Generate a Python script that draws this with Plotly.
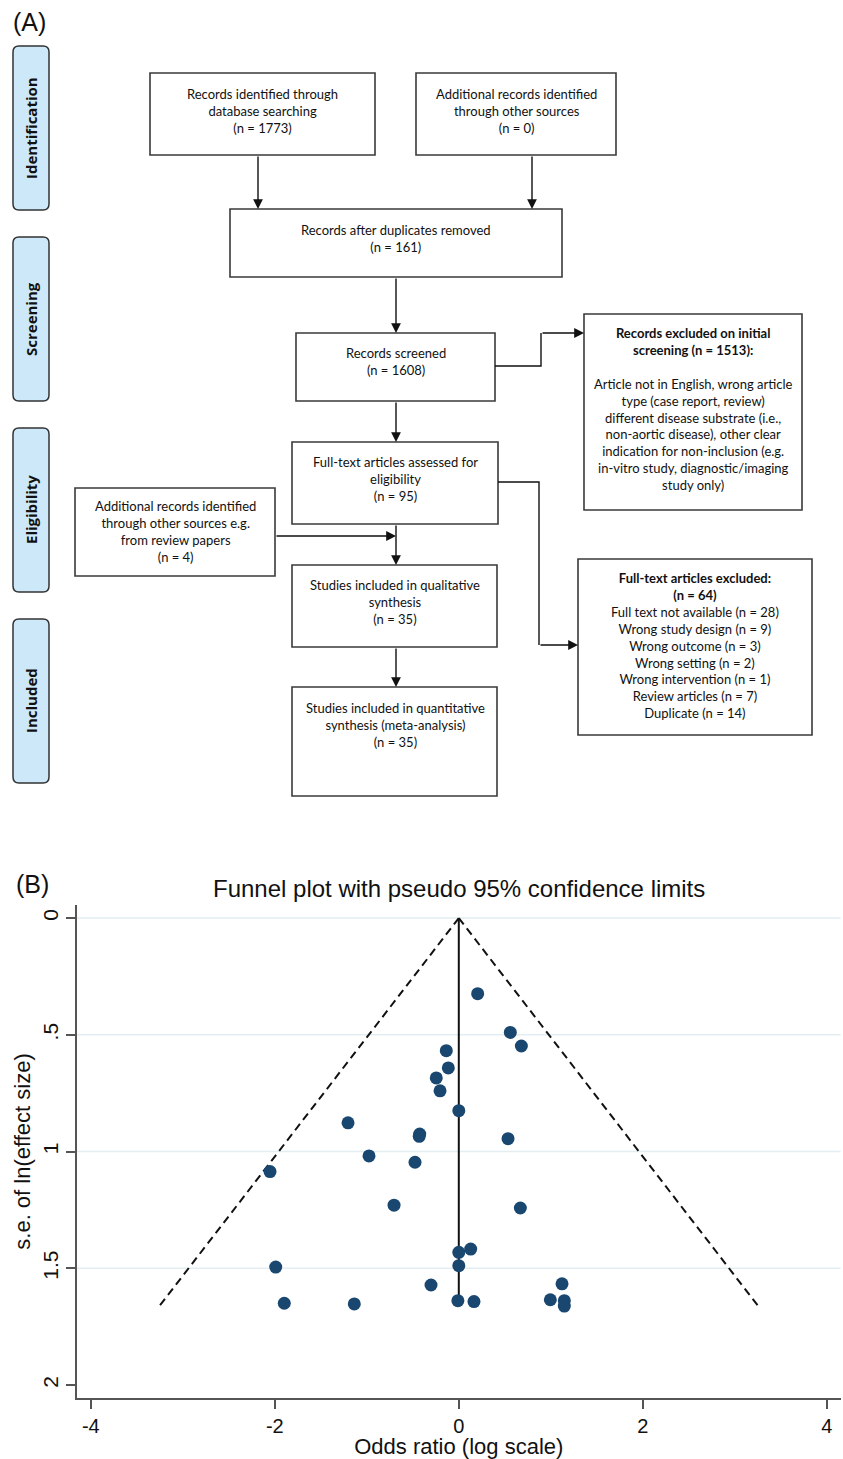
import plotly.graph_objects as go

W, H = 843, 1459

# ---------------- DATA ----------------
# Panel A: PRISMA flow counts
stage_labels = ["Identification", "Screening", "Eligibility", "Included"]
n_database = 1773
n_other = 0
n_dedup = 161
n_screened = 1608
n_excluded_screen = 1513
n_fulltext = 95
n_review_papers = 4
n_qualitative = 35
n_quantitative = 35
n_fulltext_excluded = 64
excl_reasons = ["Full text not available", "Wrong study design", "Wrong outcome",
                "Wrong setting", "Wrong intervention", "Review articles", "Duplicate"]
excl_counts = [28, 9, 3, 2, 1, 7, 14]

# Panel B: funnel plot (log odds ratio vs standard error)
log_or = [0.205, 0.56, 0.68, -0.136, -0.114, -0.245, -0.204, 0.0, -1.204, -0.425,
          -0.43, 0.535, -0.976, -0.476, -2.052, -0.704, 0.669, 0.0, 0.129, -1.99,
          0.0, -0.302, 1.122, -0.01, 0.165, 0.995, 1.147, 1.147, -1.897, -1.136]
se_log_or = [0.324, 0.49, 0.548, 0.568, 0.642, 0.685, 0.74, 0.825, 0.877, 0.925,
             0.935, 0.945, 1.019, 1.046, 1.086, 1.23, 1.242, 1.432, 1.418, 1.495,
             1.489, 1.572, 1.567, 1.639, 1.643, 1.635, 1.639, 1.662, 1.65, 1.653]
pooled_se = [0.0, 1.66]
pooled_x = [0.0, 0.0]
lower_limit_x = [0.0, -3.25]
upper_limit_x = [0.0, 3.25]
x_ticks = [-4, -2, 0, 2, 4]
x_ticklabels = ["-4", "-2", "0", "2", "4"]
y_ticks = [0, 0.5, 1, 1.5, 2]
y_ticklabels = ["0", ".5", "1", "1.5", "2"]
grid_values = [0, 0.5, 1, 1.5]


def X(px):
    return px / W


def Y(py):
    return 1 - py / H


fig = go.Figure()

# ---------------- Panel B: funnel plot ----------------
for yv in grid_values:
    fig.add_shape(type="line", xref="x domain", yref="y", x0=0, x1=1, y0=yv, y1=yv,
                  line=dict(color="#e3edf2", width=1.6), layer="below")

fig.add_trace(go.Scatter(x=lower_limit_x, y=pooled_se, mode="lines",
                         line=dict(color="#111111", width=2, dash="8px,5px"),
                         showlegend=False, hoverinfo="skip"))
fig.add_trace(go.Scatter(x=upper_limit_x, y=pooled_se, mode="lines",
                         line=dict(color="#111111", width=2, dash="8px,5px"),
                         showlegend=False, hoverinfo="skip"))
fig.add_trace(go.Scatter(x=pooled_x, y=pooled_se, mode="lines",
                         line=dict(color="#111111", width=2),
                         showlegend=False, hoverinfo="skip"))
fig.add_trace(go.Scatter(x=log_or, y=se_log_or, mode="markers",
                         marker=dict(color="#1a476f", size=13, line=dict(width=0)),
                         showlegend=False))

tick_font = dict(family="Liberation Sans, Arial, sans-serif", size=20, color="#111111")
title_font = dict(family="Liberation Sans, Arial, sans-serif", size=22, color="#111111")
fig.update_layout(
    width=W, height=H, autosize=False,
    margin=dict(l=0, r=0, t=0, b=0),
    paper_bgcolor="white", plot_bgcolor="white",
    xaxis=dict(domain=[X(77), X(840.6)], range=[-4.15, 4.15],
               tickmode="array", tickvals=x_ticks, ticktext=x_ticklabels,
               ticks="outside", ticklen=9, tickwidth=1.5, tickcolor="#555555",
               showline=True, linecolor="#555555", linewidth=1.5,
               showgrid=False, zeroline=False, tickfont=tick_font,
               title=dict(text="Odds ratio (log scale)", font=title_font, standoff=0)),
    yaxis=dict(domain=[Y(1398), Y(905)], range=[2.056, -0.056],
               tickmode="array", tickvals=y_ticks, ticktext=y_ticklabels,
               tickangle=-90,
               ticks="outside", ticklen=9, tickwidth=1.5, tickcolor="#555555",
               showline=True, linecolor="#555555", linewidth=1.5,
               showgrid=False, zeroline=False, tickfont=dict(tick_font, size=21),
               title=dict(text="s.e. of ln(effect size)", font=title_font, standoff=2)),
)

annotations = []
annotations.append(dict(text="Funnel plot with pseudo 95% confidence limits",
                        xref="paper", yref="paper", x=X(459), y=Y(888),
                        xanchor="center", yanchor="middle", showarrow=False,
                        font=dict(family="Liberation Sans, Arial, sans-serif", size=24,
                                  color="#111111")))
annotations.append(dict(text="(B)", xref="paper", yref="paper", x=X(32), y=Y(884),
                        xanchor="center", yanchor="middle", showarrow=False,
                        font=dict(family="Liberation Sans, Arial, sans-serif", size=25,
                                  color="#111111")))
annotations.append(dict(text="(A)", xref="paper", yref="paper", x=X(29), y=Y(22),
                        xanchor="center", yanchor="middle", showarrow=False,
                        font=dict(family="Liberation Sans, Arial, sans-serif", size=25,
                                  color="#111111")))

# ---------------- Panel A: PRISMA flow ----------------
BOX_LINE = dict(color="#3a3a3a", width=1.6)
FLOW_FONT = dict(family="Lato, Open Sans, sans-serif", size=13, color="#111111")
ARROW_COLOR = "#111111"


def rect(x0, y0, x1, y1):
    fig.add_shape(type="rect", xref="paper", yref="paper",
                  x0=X(x0), x1=X(x1), y0=Y(y1), y1=Y(y0),
                  line=BOX_LINE, fillcolor="white")


def rrect(x0, y0, x1, y1, r=6, fill="#cde9f9"):
    def p(x, y):
        return f"{X(x):.5f},{Y(y):.5f}"
    path = (f"M {p(x0 + r, y0)} L {p(x1 - r, y0)} Q {p(x1, y0)} {p(x1, y0 + r)} "
            f"L {p(x1, y1 - r)} Q {p(x1, y1)} {p(x1 - r, y1)} "
            f"L {p(x0 + r, y1)} Q {p(x0, y1)} {p(x0, y1 - r)} "
            f"L {p(x0, y0 + r)} Q {p(x0, y0)} {p(x0 + r, y0)} Z")
    fig.add_shape(type="path", xref="paper", yref="paper", path=path,
                  line=dict(color="#333333", width=1.5), fillcolor=fill)


def text(t, cx, cy, font=FLOW_FONT, angle=0):
    annotations.append(dict(text=t, xref="paper", yref="paper", x=X(cx), y=Y(cy),
                            xanchor="center", yanchor="middle", showarrow=False,
                            align="center", font=font, textangle=angle))


def arrow(x_tail, y_tail, x_tip, y_tip):
    annotations.append(dict(text="", xref="paper", yref="paper", x=X(x_tip), y=Y(y_tip),
                            ax=x_tail - x_tip, ay=y_tail - y_tip, axref="pixel",
                            ayref="pixel", showarrow=True, arrowhead=2, arrowsize=1.4,
                            arrowwidth=1.4, arrowcolor=ARROW_COLOR, standoff=0))


def line(pts):
    path = "M " + " L ".join(f"{X(x):.5f},{Y(y):.5f}" for x, y in pts)
    fig.add_shape(type="path", xref="paper", yref="paper", path=path,
                  line=dict(color=ARROW_COLOR, width=1.4))


# stage side labels
stage_spans = [(46, 210), (237, 401), (428, 592), (619, 783)]
for lab, (a, b) in zip(stage_labels, stage_spans):
    rrect(13, a, 49, b)
    text(f"<b>{lab}</b>", 31, (a + b) / 2,
         font=dict(family="Open Sans, sans-serif", size=15, color="#111111"), angle=-90)

# boxes
rect(150, 73, 375, 155)
text(f"Records identified through<br>database searching<br>(n = {n_database})", 262, 111)
rect(416, 73, 616, 155)
text(f"Additional records identified<br>through other sources<br>(n = {n_other})", 516, 111)
rect(230, 209, 562, 277)
text(f"Records after duplicates removed<br>(n = {n_dedup})", 396, 238.5)
rect(296, 333, 495, 401)
text(f"Records screened<br>(n = {n_screened})", 396, 361.5)
rect(292, 442, 498, 524)
text(f"Full-text articles assessed for<br>eligibility<br>(n = {n_fulltext})", 395, 479)
rect(75, 488, 275, 576)
text("Additional records identified<br>through other sources e.g.<br>from review papers"
     f"<br>(n = {n_review_papers})", 175, 532)
rect(292, 565, 497, 647)
text(f"Studies included in qualitative<br>synthesis<br>(n = {n_qualitative})", 395, 602)
rect(292, 687, 497, 796)
text("Studies included in quantitative<br>synthesis (meta-analysis)"
     f"<br>(n = {n_quantitative})", 395, 724.5)
rect(584, 314, 802, 510)
text(f"<b>Records excluded on initial<br>screening (n = {n_excluded_screen}):</b><br> <br>"
     "Article not in English, wrong article<br>type (case report, review)<br>"
     "different disease substrate (i.e.,<br>non-aortic disease), other clear<br>"
     "indication for non-inclusion (e.g.<br>in-vitro study, diagnostic/imaging<br>"
     "study only)", 693, 409.5)
rect(578, 559, 812, 735)
reason_lines = "<br>".join(f"{r} (n = {c})" for r, c in zip(excl_reasons, excl_counts))
text(f"<b>Full-text articles excluded:<br>(n = {n_fulltext_excluded})</b><br>" + reason_lines,
     695, 645)

# arrows
arrow(258, 155, 258, 209)
arrow(532, 155, 532, 209)
arrow(396, 277, 396, 333)
arrow(396, 401, 396, 442)
arrow(396, 524, 396, 565)
arrow(275, 536, 396, 536)
arrow(396, 647, 396, 687)
line([(495, 366), (541, 366), (541, 333)])
arrow(541, 333, 584, 333)
line([(498, 482), (539, 482), (539, 645)])
arrow(539, 645, 578, 645)

fig.update_layout(annotations=annotations)
fig.write_html("out.html")
